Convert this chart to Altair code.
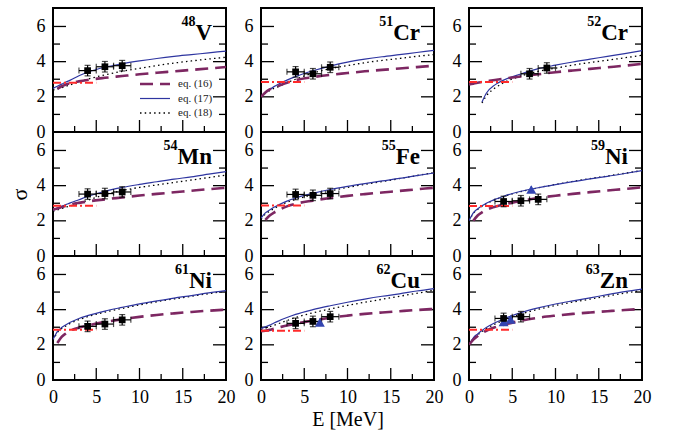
import altair as alt
import pandas as pd

# ---- data -------------------------------------------------------------
E_GRID = [0, 0.5, 1, 1.5, 2, 3, 4, 6, 8, 10, 12, 14, 16, 18, 20]

MASS = ["48", "51", "52", "54", "55", "59", "61", "62", "63"]
SYMBOL = ["V", "Cr", "Cr", "Mn", "Fe", "Ni", "Ni", "Cu", "Zn"]

# eq. (16)
V48_EQ16 = [None, 2.45, 2.6, 2.7, 2.78, 2.88, 2.96, 3.08, 3.18, 3.28, 3.37, 3.45, 3.53, 3.61, 3.7]
CR51_EQ16 = [2.0, 2.25, 2.42, 2.53, 2.62, 2.8, 2.95, 3.12, 3.25, 3.35, 3.45, 3.53, 3.61, 3.69, 3.77]
CR52_EQ16 = [2.7, 2.75, 2.8, 2.84, 2.88, 2.96, 3.03, 3.16, 3.28, 3.4, 3.5, 3.59, 3.68, 3.77, 3.87]
MN54_EQ16 = [2.65, 2.7, 2.78, 2.85, 2.92, 3.02, 3.1, 3.22, 3.33, 3.44, 3.53, 3.62, 3.71, 3.8, 3.88]
FE55_EQ16 = [None, 2.05, 2.3, 2.47, 2.6, 2.82, 2.97, 3.15, 3.3, 3.42, 3.52, 3.61, 3.7, 3.79, 3.88]
NI59_EQ16 = [None, 2.0, 2.3, 2.48, 2.62, 2.8, 2.93, 3.13, 3.3, 3.43, 3.53, 3.63, 3.72, 3.81, 3.9]
NI61_EQ16 = [None, 2.1, 2.45, 2.65, 2.8, 2.98, 3.1, 3.3, 3.46, 3.59, 3.7, 3.79, 3.87, 3.94, 4.0]
CU62_EQ16 = [2.78, 2.8, 2.85, 2.92, 2.98, 3.1, 3.2, 3.38, 3.54, 3.66, 3.76, 3.84, 3.91, 3.98, 4.04]
ZN63_EQ16 = [2.0, 2.3, 2.5, 2.66, 2.8, 3.0, 3.14, 3.37, 3.54, 3.66, 3.76, 3.84, 3.91, 3.98, 4.04]

# eq. (17)
V48_EQ17 = [2.48, 2.6, 2.72, 2.84, 2.95, 3.2, 3.4, 3.68, 3.88, 4.04, 4.18, 4.3, 4.4, 4.5, 4.6]
CR51_EQ17 = [2.02, 2.25, 2.42, 2.58, 2.72, 2.95, 3.15, 3.48, 3.75, 3.97, 4.14, 4.28, 4.4, 4.52, 4.64]
CR52_EQ17 = [None, None, None, 1.7, 2.2, 2.68, 2.95, 3.3, 3.6, 3.8, 3.98, 4.14, 4.3, 4.46, 4.63]
MN54_EQ17 = [2.6, 2.72, 2.82, 2.92, 3.02, 3.2, 3.38, 3.68, 3.9, 4.07, 4.22, 4.37, 4.5, 4.65, 4.8]
FE55_EQ17 = [2.15, 2.45, 2.62, 2.77, 2.9, 3.12, 3.3, 3.56, 3.78, 3.96, 4.12, 4.27, 4.41, 4.57, 4.72]
NI59_EQ17 = [2.0, 2.45, 2.68, 2.85, 3.0, 3.22, 3.4, 3.68, 3.88, 4.06, 4.23, 4.39, 4.53, 4.69, 4.86]
NI61_EQ17 = [2.3, 2.75, 2.98, 3.14, 3.28, 3.5, 3.66, 3.92, 4.13, 4.33, 4.5, 4.66, 4.8, 4.95, 5.08]
CU62_EQ17 = [2.92, 3.02, 3.12, 3.24, 3.35, 3.55, 3.73, 4.0, 4.22, 4.42, 4.6, 4.76, 4.9, 5.06, 5.2]
ZN63_EQ17 = [2.0, 2.4, 2.62, 2.81, 2.98, 3.25, 3.47, 3.83, 4.1, 4.32, 4.5, 4.67, 4.85, 5.02, 5.17]

# eq. (18)
V48_EQ18 = [2.38, 2.45, 2.52, 2.6, 2.68, 2.85, 3.0, 3.25, 3.45, 3.62, 3.78, 3.92, 4.04, 4.15, 4.25]
CR51_EQ18 = [2.0, 2.2, 2.35, 2.48, 2.58, 2.8, 3.0, 3.35, 3.6, 3.78, 3.94, 4.07, 4.18, 4.3, 4.4]
CR52_EQ18 = [None, None, None, 1.65, 2.05, 2.5, 2.8, 3.18, 3.45, 3.63, 3.8, 3.95, 4.08, 4.22, 4.36]
MN54_EQ18 = [2.55, 2.62, 2.7, 2.78, 2.85, 3.0, 3.17, 3.48, 3.72, 3.9, 4.04, 4.18, 4.32, 4.46, 4.6]
FE55_EQ18 = [2.1, 2.38, 2.55, 2.7, 2.83, 3.05, 3.22, 3.48, 3.7, 3.9, 4.07, 4.23, 4.4, 4.57, 4.74]
NI59_EQ18 = [2.0, 2.42, 2.65, 2.82, 2.97, 3.2, 3.38, 3.66, 3.88, 4.07, 4.24, 4.4, 4.55, 4.7, 4.86]
NI61_EQ18 = [2.25, 2.7, 2.93, 3.08, 3.22, 3.43, 3.6, 3.86, 4.07, 4.27, 4.45, 4.61, 4.76, 4.91, 5.05]
CU62_EQ18 = [2.88, 2.95, 3.03, 3.11, 3.2, 3.38, 3.55, 3.82, 4.04, 4.24, 4.42, 4.59, 4.76, 4.93, 5.1]
ZN63_EQ18 = [2.0, 2.35, 2.57, 2.75, 2.92, 3.18, 3.4, 3.75, 4.02, 4.24, 4.43, 4.6, 4.77, 4.94, 5.09]

EQ16 = [V48_EQ16, CR51_EQ16, CR52_EQ16, MN54_EQ16, FE55_EQ16, NI59_EQ16, NI61_EQ16, CU62_EQ16, ZN63_EQ16]
EQ17 = [V48_EQ17, CR51_EQ17, CR52_EQ17, MN54_EQ17, FE55_EQ17, NI59_EQ17, NI61_EQ17, CU62_EQ17, ZN63_EQ17]
EQ18 = [V48_EQ18, CR51_EQ18, CR52_EQ18, MN54_EQ18, FE55_EQ18, NI59_EQ18, NI61_EQ18, CU62_EQ18, ZN63_EQ18]

# low-energy limit (dash-dot), drawn over 0..5 MeV
LOW_E = [0, 5]
LOW_SIGMA = [2.8, 2.84, 2.84, 2.85, 2.87, 2.84, 2.86, 2.8, 2.86]

# measured points (squares): energies, sigma, errors
EXP_E = [[4, 6, 8], [4, 6, 8], [7, 9], [4, 6, 8], [4, 6, 8], [4, 6, 8], [4, 6, 8], [4, 6, 8], [4, 6]]
EXP_S = [[3.49, 3.71, 3.77], [3.42, 3.31, 3.68], [3.31, 3.64], [3.52, 3.55, 3.64],
         [3.5, 3.45, 3.55], [3.1, 3.14, 3.22], [3.05, 3.18, 3.42], [3.22, 3.33, 3.6], [3.5, 3.6]]
EXP_DE = 1.0
EXP_DS = 0.3

# additional data (triangles)
TRI_E = [[], [], [], [], [], [7.2], [], [6.8], [4.0, 4.8]]
TRI_S = [[], [], [], [], [], [3.78], [], [3.28], [3.3, 3.45]]
TRI_DS = 0.2

X_LABELS = [0, 5, 10, 15, 20]
Y_LABELS = [0, 2, 4, 6]
X_MAJOR = [5, 10, 15]
X_MINOR = [2.5, 7.5, 12.5, 17.5]
Y_MAJOR = [2, 4, 6]
Y_MINOR = [1, 3, 5]

LEGEND_LABELS = ["eq. (16)", "eq. (17)", "eq. (18)"]

# ---- styling -----------------------------------------------------------
W, H = 173, 124
SERIF = "Liberation Serif"
PURPLE = "#7d2762"
BLUE = "#2e35a0"
RED = "#ff2a2a"
TRI_BLUE = "#3344b0"

# Times-bold advance widths (em) for right-aligning the mass number
BOLD_W = {"V": 0.722, "C": 0.722, "r": 0.444, "M": 0.944, "n": 0.556, "F": 0.611,
          "e": 0.444, "N": 0.722, "i": 0.278, "u": 0.556, "Z": 0.667}
SYM_SIZE = 23
MASS_SIZE = 14


def xenc(field, row, col):
    scale = alt.Scale(domain=[0, 20], nice=False, zero=False)
    if row == 2:
        kw = dict(values=X_LABELS, ticks=False, domain=False, grid=False,
                  labelFlush=False, labelOverlap=False, labelFont=SERIF,
                  labelFontSize=18, labelColor="black", labelPadding=8)
        if col == 1:
            kw.update(title="E [MeV]", titleFont=SERIF, titleFontSize=20,
                      titleFontWeight="normal", titleColor="black", titlePadding=3)
        else:
            kw.update(title="")
        return alt.X(field, type="quantitative", scale=scale, axis=alt.Axis(**kw))
    return alt.X(field, type="quantitative", scale=scale, axis=None)


def yenc(field, row, col):
    scale = alt.Scale(domain=[0, 7.05], nice=False, zero=False)
    kw = dict(values=Y_LABELS, ticks=False, domain=False, grid=False,
              labelFlush=False, labelOverlap=False, labelFont=SERIF,
              labelFontSize=18, labelColor="black", labelPadding=8)
    if row == 1 and col == 0:
        kw.update(title="σ", titleFont=SERIF, titleFontSize=22,
                  titleFontWeight="normal", titleColor="black", titlePadding=5)
    else:
        kw.update(title="")
    return alt.Y(field, type="quantitative", scale=scale, axis=alt.Axis(**kw))


def curve(values):
    return pd.DataFrame({"E": E_GRID, "sigma": values}).dropna()


def panel(i):
    row, col = divmod(i, 3)
    X = lambda f: xenc(f, row, col)
    Y = lambda f: yenc(f, row, col)
    layers = []

    # inside tick marks (bottom, left, right)
    for vals, ln in ((X_MAJOR, 12), (X_MINOR, 6)):
        layers.append(alt.Chart(pd.DataFrame({"E": vals})).mark_rule(color="black", strokeWidth=1.3)
                      .encode(x=X("E"), y=alt.value(H), y2=alt.value(H - ln)))
    for vals, ln in ((Y_MAJOR, 13), (Y_MINOR, 7)):
        d = pd.DataFrame({"sigma": vals})
        layers.append(alt.Chart(d).mark_rule(color="black", strokeWidth=1.3)
                      .encode(y=Y("sigma"), x=alt.value(0), x2=alt.value(ln)))
        layers.append(alt.Chart(d).mark_rule(color="black", strokeWidth=1.3)
                      .encode(y=Y("sigma"), x=alt.value(W - ln), x2=alt.value(W)))

    # model curves
    layers.append(alt.Chart(curve(EQ18[i])).mark_line(color="black", strokeWidth=1.3,
                  strokeDash=[1.5, 3.2], interpolate="monotone", clip=True)
                  .encode(x=X("E"), y=Y("sigma")))
    layers.append(alt.Chart(curve(EQ17[i])).mark_line(color=BLUE, strokeWidth=1.2,
                  interpolate="monotone", clip=True)
                  .encode(x=X("E"), y=Y("sigma")))
    layers.append(alt.Chart(curve(EQ16[i])).mark_line(color=PURPLE, strokeWidth=2.6,
                  strokeDash=[13, 7], interpolate="monotone", clip=True)
                  .encode(x=X("E"), y=Y("sigma")))
    low = pd.DataFrame({"E": LOW_E, "sigma": [LOW_SIGMA[i]] * len(LOW_E)})
    layers.append(alt.Chart(low).mark_line(color=RED, strokeWidth=2,
                  strokeDash=[8, 3, 2, 3], clip=True)
                  .encode(x=X("E"), y=Y("sigma")))

    # measured points with error bars
    e = pd.Series(EXP_E[i], dtype=float)
    s = pd.Series(EXP_S[i], dtype=float)
    pts = pd.DataFrame({"E": e, "sigma": s, "elo": e - EXP_DE, "ehi": e + EXP_DE,
                        "slo": s - EXP_DS, "shi": s + EXP_DS})
    layers.append(alt.Chart(pts).mark_rule(color="black", strokeWidth=1.2)
                  .encode(x=X("elo"), x2="ehi", y=Y("sigma")))
    layers.append(alt.Chart(pts).mark_rule(color="black", strokeWidth=1.2)
                  .encode(x=X("E"), y=Y("slo"), y2="shi"))
    for fx, fy, orient in (("elo", "sigma", "vertical"), ("ehi", "sigma", "vertical"),
                           ("E", "slo", "horizontal"), ("E", "shi", "horizontal")):
        layers.append(alt.Chart(pts).mark_tick(color="black", orient=orient, size=6, thickness=1.2)
                      .encode(x=X(fx), y=Y(fy)))

    if TRI_E[i]:
        te = pd.Series(TRI_E[i], dtype=float)
        ts = pd.Series(TRI_S[i], dtype=float)
        tri = pd.DataFrame({"E": te, "sigma": ts, "slo": ts - TRI_DS, "shi": ts + TRI_DS})
        layers.append(alt.Chart(tri).mark_rule(color=TRI_BLUE, strokeWidth=1.2)
                      .encode(x=X("E"), y=Y("slo"), y2="shi"))
        layers.append(alt.Chart(tri).mark_point(shape="triangle-up", filled=True, size=100,
                      color=TRI_BLUE, opacity=1)
                      .encode(x=X("E"), y=Y("sigma")))

    layers.append(alt.Chart(pts).mark_point(shape="square", filled=True, size=45,
                  color="black", opacity=1)
                  .encode(x=X("E"), y=Y("sigma")))

    # nuclide label: bold symbol with mass number as superscript
    sym_w = sum(BOLD_W[c] for c in SYMBOL[i]) * SYM_SIZE
    lab = pd.DataFrame({"mass": [MASS[i]], "sym": [SYMBOL[i]]})
    layers.append(alt.Chart(lab).mark_text(font=SERIF, fontWeight="bold", fontSize=SYM_SIZE,
                  align="right", baseline="alphabetic", color="black")
                  .encode(text="sym:N", x=alt.value(W - 14), y=alt.value(32)))
    layers.append(alt.Chart(lab).mark_text(font=SERIF, fontWeight="bold", fontSize=MASS_SIZE,
                  align="right", baseline="alphabetic", color="black")
                  .encode(text="mass:N", x=alt.value(W - 14 - sym_w), y=alt.value(18)))

    # line-style key in the first panel
    if i == 0:
        styles = [dict(color=PURPLE, strokeWidth=2.6, strokeDash=[13, 7]),
                  dict(color=BLUE, strokeWidth=1.2),
                  dict(color="black", strokeWidth=1.3, strokeDash=[1.5, 3.2])]
        for k, (lbl, st) in enumerate(zip(LEGEND_LABELS, styles)):
            ly = 76 + 14.5 * k
            d = pd.DataFrame({"label": [lbl]})
            layers.append(alt.Chart(d).mark_rule(**st)
                          .encode(x=alt.value(87), x2=alt.value(117), y=alt.value(ly)))
            layers.append(alt.Chart(d).mark_text(font=SERIF, fontSize=11, align="left",
                          baseline="middle", color="#222222")
                          .encode(text="label:N", x=alt.value(125), y=alt.value(ly)))

    return alt.layer(*layers).properties(width=W, height=H)


chart = (
    alt.concat(*[panel(i) for i in range(9)], columns=3,
               spacing={"row": 0, "column": 35}, bounds="flush")
    .properties(padding={"left": 7, "top": 7, "right": 5, "bottom": 0}, background="white")
    .configure_view(stroke="black", strokeWidth=2)
)

chart.save("out.html", embed_options={"renderer": "svg", "actions": False})
